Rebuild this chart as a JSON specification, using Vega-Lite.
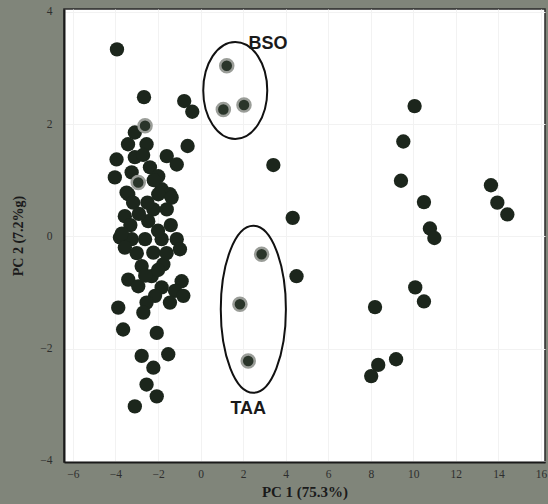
{
  "$schema": "https://vega.github.io/schema/vega-lite/v6.json",
  "width": 481,
  "height": 453,
  "autosize": {"type": "none"},
  "padding": {"left": 64, "top": 9, "right": 3, "bottom": 42},
  "background": "#80857a",
  "config": {"view": {"fill": "white", "stroke": "#2a2a2a", "strokeWidth": 1.5}},
  "datasets": {
    "pts": [
      {"pc1": -3.93, "pc2": 3.33, "kind": "sample"},
      {"pc1": -2.66, "pc2": 2.48, "kind": "sample"},
      {"pc1": -0.77, "pc2": 2.41, "kind": "sample"},
      {"pc1": -0.39, "pc2": 2.22, "kind": "sample"},
      {"pc1": -2.61, "pc2": 1.97, "kind": "marked"},
      {"pc1": -3.09, "pc2": 1.85, "kind": "sample"},
      {"pc1": -0.61, "pc2": 1.61, "kind": "sample"},
      {"pc1": -3.41, "pc2": 1.64, "kind": "sample"},
      {"pc1": -2.54, "pc2": 1.64, "kind": "sample"},
      {"pc1": -3.95, "pc2": 1.37, "kind": "sample"},
      {"pc1": -3.09, "pc2": 1.41, "kind": "sample"},
      {"pc1": -1.59, "pc2": 1.43, "kind": "sample"},
      {"pc1": -1.12, "pc2": 1.28, "kind": "sample"},
      {"pc1": -2.38, "pc2": 1.23, "kind": "sample"},
      {"pc1": -1.99, "pc2": 1.07, "kind": "sample"},
      {"pc1": -4.03, "pc2": 1.05, "kind": "sample"},
      {"pc1": -3.24, "pc2": 1.14, "kind": "sample"},
      {"pc1": -3.48, "pc2": 0.78, "kind": "sample"},
      {"pc1": -1.83, "pc2": 0.84, "kind": "sample"},
      {"pc1": -1.44, "pc2": 0.75, "kind": "sample"},
      {"pc1": -3.40, "pc2": 0.75, "kind": "sample"},
      {"pc1": -1.99, "pc2": 0.75, "kind": "sample"},
      {"pc1": -1.36, "pc2": 0.69, "kind": "sample"},
      {"pc1": -3.17, "pc2": 0.60, "kind": "sample"},
      {"pc1": -2.22, "pc2": 0.48, "kind": "sample"},
      {"pc1": -1.59, "pc2": 0.48, "kind": "sample"},
      {"pc1": -3.56, "pc2": 0.36, "kind": "sample"},
      {"pc1": -2.46, "pc2": 0.27, "kind": "sample"},
      {"pc1": -3.79, "pc2": -0.02, "kind": "sample"},
      {"pc1": -3.24, "pc2": -0.05, "kind": "sample"},
      {"pc1": -2.61, "pc2": -0.05, "kind": "sample"},
      {"pc1": -1.83, "pc2": -0.05, "kind": "sample"},
      {"pc1": -1.12, "pc2": -0.05, "kind": "sample"},
      {"pc1": -3.56, "pc2": -0.20, "kind": "sample"},
      {"pc1": -0.97, "pc2": -0.23, "kind": "sample"},
      {"pc1": -2.22, "pc2": -0.29, "kind": "sample"},
      {"pc1": -2.77, "pc2": -0.53, "kind": "sample"},
      {"pc1": -1.75, "pc2": -0.50, "kind": "sample"},
      {"pc1": -2.30, "pc2": -0.71, "kind": "sample"},
      {"pc1": -3.40, "pc2": -0.77, "kind": "sample"},
      {"pc1": -2.93, "pc2": -0.89, "kind": "sample"},
      {"pc1": -0.89, "pc2": -0.80, "kind": "sample"},
      {"pc1": -1.83, "pc2": -0.91, "kind": "sample"},
      {"pc1": -1.20, "pc2": -0.97, "kind": "sample"},
      {"pc1": -2.14, "pc2": -1.06, "kind": "sample"},
      {"pc1": -0.81, "pc2": -1.06, "kind": "sample"},
      {"pc1": -2.54, "pc2": -1.18, "kind": "sample"},
      {"pc1": -1.44, "pc2": -1.18, "kind": "sample"},
      {"pc1": -3.87, "pc2": -1.27, "kind": "sample"},
      {"pc1": -2.69, "pc2": -1.36, "kind": "sample"},
      {"pc1": -3.64, "pc2": -1.66, "kind": "sample"},
      {"pc1": -2.06, "pc2": -1.72, "kind": "sample"},
      {"pc1": -2.77, "pc2": -2.13, "kind": "sample"},
      {"pc1": -1.52, "pc2": -2.10, "kind": "sample"},
      {"pc1": -2.22, "pc2": -2.34, "kind": "sample"},
      {"pc1": -2.54, "pc2": -2.64, "kind": "sample"},
      {"pc1": -2.06, "pc2": -2.85, "kind": "sample"},
      {"pc1": -3.09, "pc2": -3.03, "kind": "sample"},
      {"pc1": -2.90, "pc2": 0.40, "kind": "sample"},
      {"pc1": -2.00, "pc2": 0.10, "kind": "sample"},
      {"pc1": -2.50, "pc2": 0.60, "kind": "sample"},
      {"pc1": -3.00, "pc2": -0.30, "kind": "sample"},
      {"pc1": -1.60, "pc2": -0.30, "kind": "sample"},
      {"pc1": -2.60, "pc2": -0.70, "kind": "sample"},
      {"pc1": -2.00, "pc2": -0.60, "kind": "sample"},
      {"pc1": -3.30, "pc2": 0.20, "kind": "sample"},
      {"pc1": -1.40, "pc2": 0.20, "kind": "sample"},
      {"pc1": -2.20, "pc2": 1.00, "kind": "sample"},
      {"pc1": -2.70, "pc2": 1.45, "kind": "sample"},
      {"pc1": -3.70, "pc2": 0.05, "kind": "sample"},
      {"pc1": -2.93, "pc2": 0.96, "kind": "marked"},
      {"pc1": 1.23, "pc2": 3.04, "kind": "marked"},
      {"pc1": 1.07, "pc2": 2.26, "kind": "marked"},
      {"pc1": 2.04, "pc2": 2.34, "kind": "marked"},
      {"pc1": 2.87, "pc2": -0.32, "kind": "marked"},
      {"pc1": 1.85, "pc2": -1.21, "kind": "marked"},
      {"pc1": 2.24, "pc2": -2.22, "kind": "marked"},
      {"pc1": 3.42, "pc2": 1.27, "kind": "sample"},
      {"pc1": 4.33, "pc2": 0.33, "kind": "sample"},
      {"pc1": 4.51, "pc2": -0.71, "kind": "sample"},
      {"pc1": 10.06, "pc2": 2.32, "kind": "sample"},
      {"pc1": 9.53, "pc2": 1.69, "kind": "sample"},
      {"pc1": 9.42, "pc2": 0.99, "kind": "sample"},
      {"pc1": 10.50, "pc2": 0.61, "kind": "sample"},
      {"pc1": 10.78, "pc2": 0.14, "kind": "sample"},
      {"pc1": 10.99, "pc2": -0.03, "kind": "sample"},
      {"pc1": 13.65, "pc2": 0.91, "kind": "sample"},
      {"pc1": 13.95, "pc2": 0.60, "kind": "sample"},
      {"pc1": 14.42, "pc2": 0.39, "kind": "sample"},
      {"pc1": 10.09, "pc2": -0.91, "kind": "sample"},
      {"pc1": 10.50, "pc2": -1.16, "kind": "sample"},
      {"pc1": 8.20, "pc2": -1.26, "kind": "sample"},
      {"pc1": 9.19, "pc2": -2.19, "kind": "sample"},
      {"pc1": 8.35, "pc2": -2.29, "kind": "sample"},
      {"pc1": 8.02, "pc2": -2.49, "kind": "sample"}
    ],
    "groups": [
      {"group": "BSO", "cx": 1.63, "cy": 2.60, "lx": 3.17, "ly": 3.42},
      {"group": "TAA", "cx": 2.48, "cy": -1.30, "lx": 2.24, "ly": -3.08}
    ]
  },
  "layer": [
    {
      "data": {"name": "pts"},
      "transform": [{"filter": "datum.kind === 'sample'"}],
      "mark": {"type": "point", "filled": true, "size": 205, "color": "#1c261c", "opacity": 1},
      "encoding": {
        "x": {
          "field": "pc1", "type": "quantitative",
          "scale": {"domain": [-6.42, 16.19], "nice": false, "zero": false},
          "axis": {
            "title": "PC 1 (75.3%)", "values": [-6, -4, -2, 0, 2, 4, 6, 8, 10, 12, 14, 16], "format": "d",
            "ticks": false, "domainColor": "#1a1a1a", "domainWidth": 2,
            "grid": true, "gridColor": "#f2f2f2",
            "labelFont": "Liberation Serif", "labelFontSize": 11.5, "labelColor": "#2e2e2e", "labelPadding": 6,
            "titleFont": "Liberation Serif", "titleFontSize": 15, "titleFontWeight": "bold", "titleColor": "#1a1a1a", "titlePadding": 5
          }
        },
        "y": {
          "field": "pc2", "type": "quantitative",
          "scale": {"domain": [-4.02, 4.05], "nice": false, "zero": false},
          "axis": {
            "title": "PC 2 (7.2%g)", "values": [-4, -2, 0, 2, 4], "format": "d",
            "ticks": false, "domainColor": "#1a1a1a", "domainWidth": 2,
            "grid": true, "gridColor": "#f2f2f2",
            "labelFont": "Liberation Serif", "labelFontSize": 11.5, "labelColor": "#2e2e2e", "labelPadding": 12,
            "titleFont": "Liberation Serif", "titleFontSize": 14, "titleFontWeight": "bold", "titleColor": "#1a1a1a", "titlePadding": 14
          }
        }
      }
    },
    {
      "data": {"name": "pts"},
      "transform": [{"filter": "datum.kind === 'marked'"}],
      "mark": {"type": "point", "filled": true, "size": 170, "fill": "#2a352a", "stroke": "#9a9d98", "strokeWidth": 2.5, "opacity": 1},
      "encoding": {
        "x": {"field": "pc1", "type": "quantitative"},
        "y": {"field": "pc2", "type": "quantitative"}
      }
    },
    {
      "data": {"name": "groups"},
      "transform": [{"filter": "datum.group === 'BSO'"}],
      "mark": {"type": "point", "filled": false, "color": "#111111", "strokeWidth": 2, "opacity": 1, "size": 9409,
        "shape": "M0.66,0 C0.66,0.5523 0.3645,1 0,1 C-0.3645,1 -0.66,0.5523 -0.66,0 C-0.66,-0.5523 -0.3645,-1 0,-1 C0.3645,-1 0.66,-0.5523 0.66,0 Z"},
      "encoding": {
        "x": {"field": "cx", "type": "quantitative"},
        "y": {"field": "cy", "type": "quantitative"}
      }
    },
    {
      "data": {"name": "groups"},
      "transform": [{"filter": "datum.group === 'TAA'"}],
      "mark": {"type": "point", "filled": false, "color": "#111111", "strokeWidth": 2, "opacity": 1, "size": 27889,
        "shape": "M0.39,0 C0.39,0.5523 0.2154,1 0,1 C-0.2154,1 -0.39,0.5523 -0.39,0 C-0.39,-0.5523 -0.2154,-1 0,-1 C0.2154,-1 0.39,-0.5523 0.39,0 Z"},
      "encoding": {
        "x": {"field": "cx", "type": "quantitative"},
        "y": {"field": "cy", "type": "quantitative"}
      }
    },
    {
      "data": {"name": "groups"},
      "mark": {"type": "text", "font": "Liberation Sans", "fontSize": 18, "fontWeight": "bold", "color": "#1a1a1a", "align": "center", "baseline": "middle"},
      "encoding": {
        "x": {"field": "lx", "type": "quantitative"},
        "y": {"field": "ly", "type": "quantitative"},
        "text": {"field": "group"}
      }
    }
  ]
}
